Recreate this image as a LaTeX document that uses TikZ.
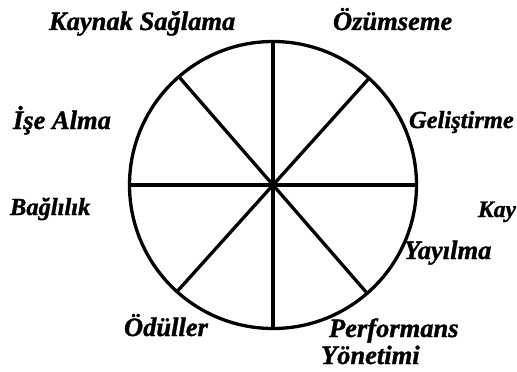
\documentclass[tikz,border=0pt]{standalone}
\usepackage{fontspec}
\setmainfont{Liberation Serif}[BoldItalicFeatures={FakeBold=1.2}]
\begin{document}
\begin{tikzpicture}[x=1pt,y=-1pt,
  ring/.style={circle,draw=black,line width=3.3pt,minimum size=287pt,inner sep=0pt,outer sep=0pt},
  spoke/.style={draw=black,line width=3.3pt},
  lbl/.style={anchor=base west,inner sep=0pt,outer sep=0pt,font=\fontsize{26.5}{31}\selectfont\bfseries\itshape},
  lbls/.style={lbl,font=\fontsize{24.5}{29}\selectfont\bfseries\itshape},
  lblt/.style={lbl,font=\fontsize{23.6}{28}\selectfont\bfseries\itshape}]
\useasboundingbox (0,0) rectangle (517,372);
\node[ring] (C) at (273,185) {};
\coordinate (O) at (273,185);
\draw[spoke] (C.north) -- (C.south);
\draw[spoke] (C.west) -- (C.east);
\draw[spoke] (C.131.5) -- (O) -- (C.311.5);
\draw[spoke] (C.48.5) -- (O) -- (C.228.5);
\node[lbl] (ks) at (49,30) {Kaynak Sağlama};
\node[lbl] (oz) at (333,30) {Özümseme};
\node[lbl] (ia) at (13,129) {İşe Alma};
\node[lbls] (ge) at (409,128) {Geliştirme};
\node[lbls] (ba) at (10,215) {Bağlılık};
\node[lblt] (ka) at (478,217) {Kay};
\node[lbl] (ya) at (404,259) {Yayılma};
\node[lbl] (od) at (124,336) {Ödüller};
\node[lbl] (pe) at (329,337) {Performans};
\node[lbl] (yo) at (321,364) {Yönetimi};
\end{tikzpicture}
\end{document}
